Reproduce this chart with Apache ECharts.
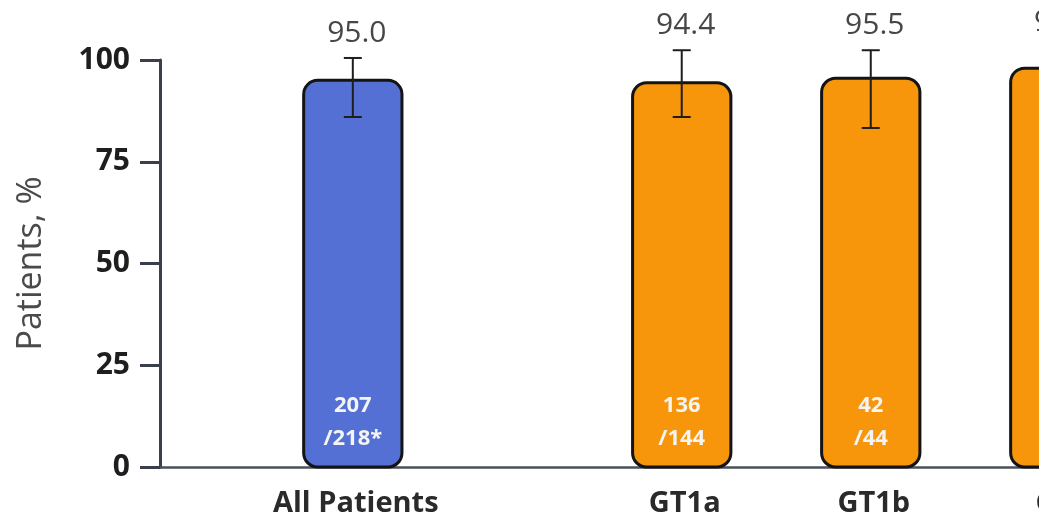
<!DOCTYPE html>
<html>
<head>
<meta charset="utf-8">
<script src="https://cdn.jsdelivr.net/npm/echarts@6/dist/echarts.min.js"></script>
<style>
  html, body { margin: 0; padding: 0; background: #ffffff; }
  #chart { width: 1039px; height: 521px; }
</style>
</head>
<body>
<div id="chart"></div>
<script>
// SVR rates by group, with 95% CI and n/N counts
const categories = ['All Patients', 'GT1a', 'GT1b', 'GT2'];
const rates = [95.0, 94.4, 95.5, 98.0];
const ciLow = [86.0, 86.0, 83.3, 93.0];
const ciHigh = [100.5, 102.4, 102.4, 103.0];
const responders = [207, 136, 42, 49];
const totals = [218, 144, 44, 50];
const footnotes = ['*', '', '', ''];
const yTicks = [0, 25, 50, 75, 100];

// horizontal slot of each group along the value x-axis (overall bar set apart)
const slots = [1.02, 2.76, 3.76, 4.76];
const groupColor = ['#5570D4', '#F7960A', '#F7960A', '#F7960A'];

const rows = categories.map((c, i) => [slots[i], rates[i], ciLow[i], ciHigh[i], i]);

const FONT = '"Open Sans", "DejaVu Sans", sans-serif';

function renderItem(params, api) {
  const x = api.value(0);
  const v = api.value(1);
  const lo = api.value(2);
  const hi = api.value(3);
  const i = api.value(4);
  const base = api.coord([x, 0]);
  const top = api.coord([x, v]);
  const pLo = api.coord([x, lo]);
  const pHi = api.coord([x, hi]);
  const w = api.size([0.52, 0])[0];
  const cx = base[0];
  const cap = 9;
  return {
    type: 'group',
    children: [
      {
        type: 'rect',
        shape: { x: cx - w / 2, y: top[1], width: w, height: base[1] - top[1], r: 14 },
        style: { fill: groupColor[i], stroke: '#141414', lineWidth: 3 }
      },
      {
        type: 'line',
        shape: { x1: cx, y1: pHi[1], x2: cx, y2: pLo[1] },
        style: { stroke: '#1e1e1e', lineWidth: 2 }
      },
      {
        type: 'line',
        shape: { x1: cx - cap, y1: pHi[1], x2: cx + cap, y2: pHi[1] },
        style: { stroke: '#1e1e1e', lineWidth: 2 }
      },
      {
        type: 'line',
        shape: { x1: cx - cap, y1: pLo[1], x2: cx + cap, y2: pLo[1] },
        style: { stroke: '#1e1e1e', lineWidth: 2 }
      },
      {
        type: 'text',
        style: {
          text: rates[i].toFixed(1), x: cx + 4, y: pHi[1] - 25,
          align: 'center', verticalAlign: 'middle',
          fill: '#474747', fontSize: 30, fontFamily: FONT
        }
      },
      {
        type: 'text',
        style: {
          text: responders[i] + '\n/' + totals[i] + footnotes[i], x: cx, y: base[1] - 45,
          align: 'center', verticalAlign: 'middle', lineHeight: 33,
          fill: '#f4f4f4', fontSize: 22, fontWeight: 'bold', fontFamily: FONT
        }
      },
      {
        type: 'text',
        style: {
          text: categories[i], x: cx + 3, y: base[1] + 37,
          align: 'center', verticalAlign: 'middle',
          fill: '#2a2a2a', fontSize: 29, fontWeight: 'bold', fontFamily: FONT
        }
      }
    ]
  };
}

const chart = echarts.init(document.getElementById('chart'));
chart.setOption({
  animation: false,
  backgroundColor: '#ffffff',
  grid: { left: 160, top: 60, right: 0, height: 407 },
  xAxis: {
    type: 'value', min: 0, max: 4.65,
    axisLine: { show: true, onZero: false, lineStyle: { color: '#4a505c', width: 2.5 } },
    axisTick: { show: false },
    axisLabel: { show: false },
    splitLine: { show: false }
  },
  yAxis: {
    type: 'value', min: yTicks[0], max: yTicks[yTicks.length - 1], interval: yTicks[1] - yTicks[0],
    name: 'Patients, %', nameLocation: 'middle', nameGap: 112,
    nameTextStyle: { fontSize: 34, color: '#4a4a4a', fontFamily: FONT },
    axisLine: { show: true, lineStyle: { color: '#3a3f4b', width: 3 } },
    axisTick: { show: true, inside: false, length: 20, lineStyle: { color: '#3a3f4b', width: 3 } },
    axisLabel: { margin: 30, fontSize: 30, fontWeight: 'bold', color: '#1e1e1e', fontFamily: FONT },
    splitLine: { show: false }
  },
  series: [{
    type: 'custom',
    clip: false,
    renderItem: renderItem,
    encode: { x: 0, y: 1 },
    data: rows
  }]
});
</script>
</body>
</html>
